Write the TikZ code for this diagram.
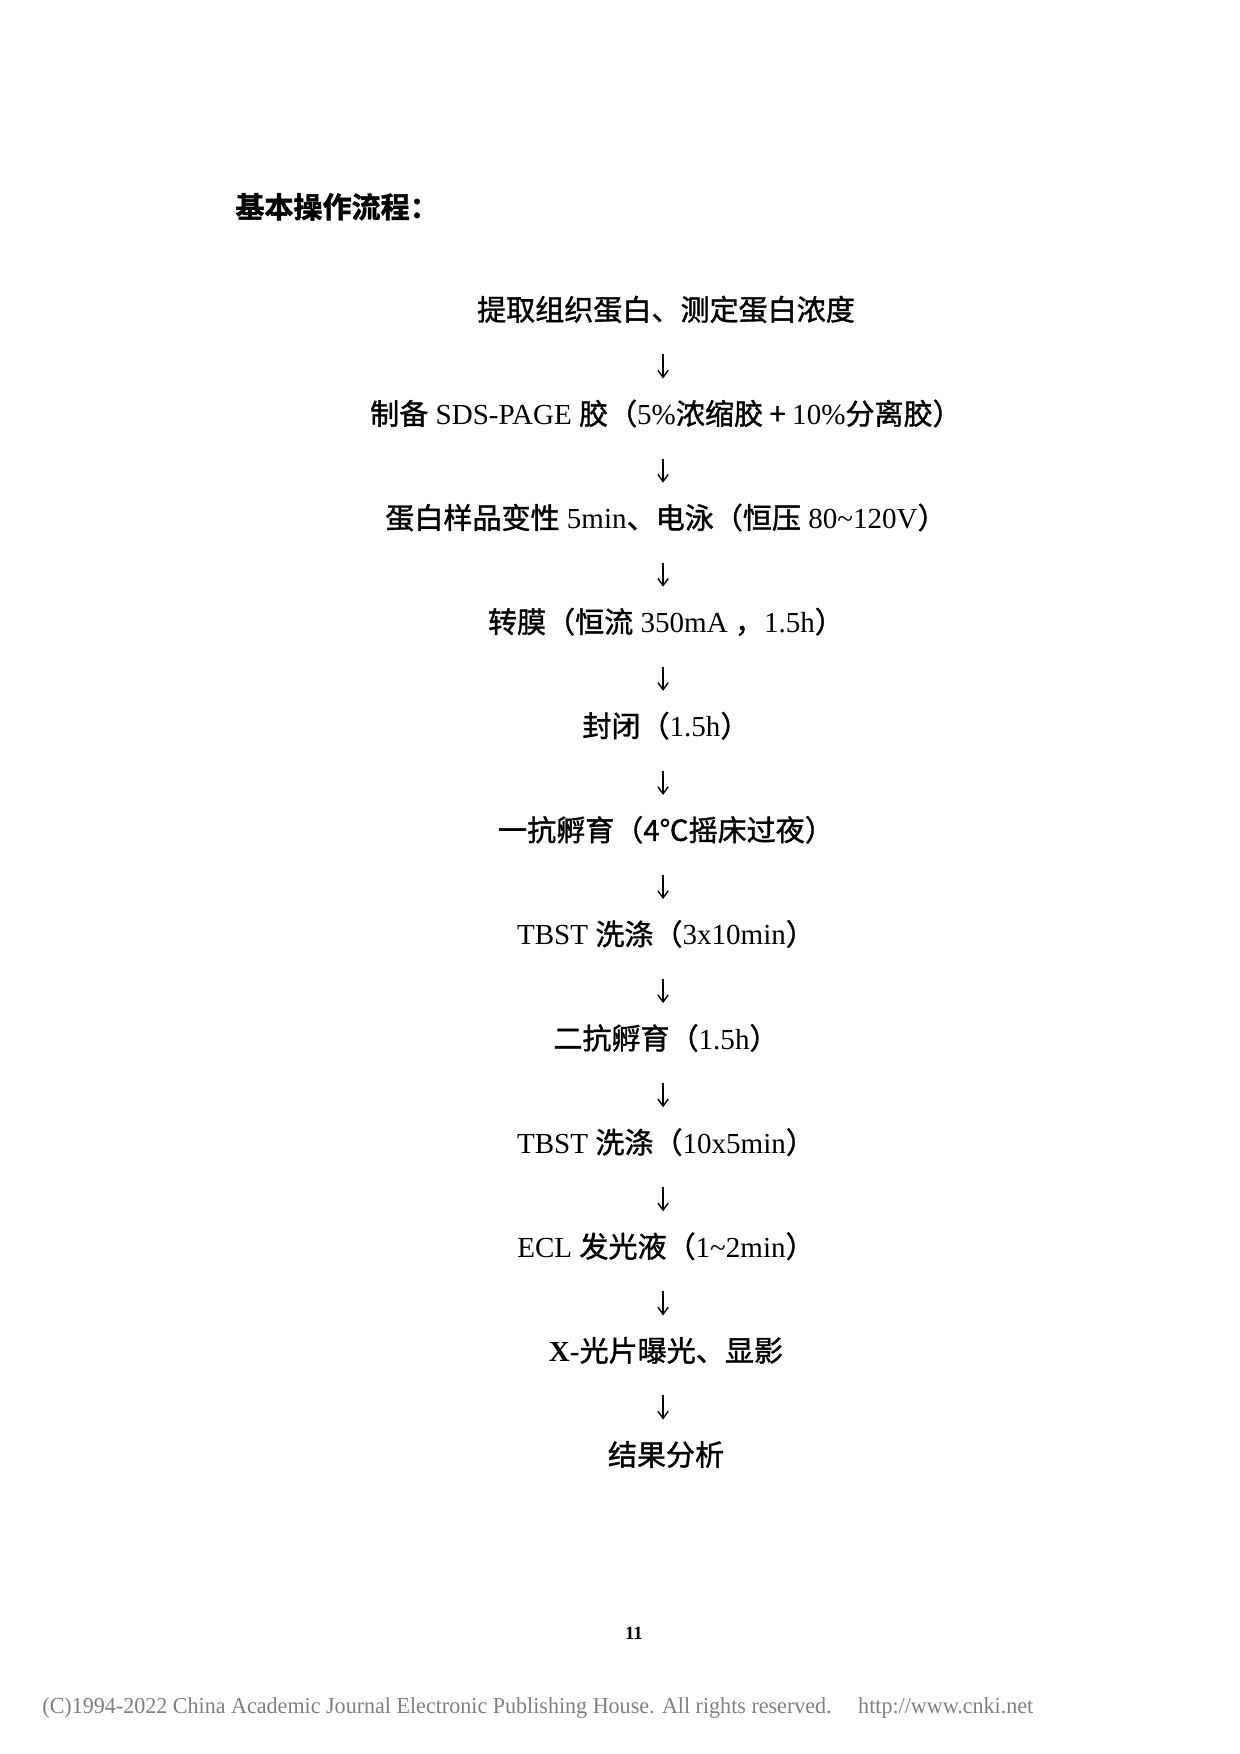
\documentclass[tikz,border=0pt]{standalone}
\usepackage{fontspec}
\setmainfont{Liberation Serif}
\newfontfamily\cjk[FakeBold=1.3]{Noto Sans CJK SC}
\newfontfamily\cjktitle[FakeBold=1.5]{Noto Sans CJK SC Bold}
\usetikzlibrary{arrows.meta}
\definecolor{footgray}{RGB}{128,128,128}
\begin{document}
\begin{tikzpicture}[x=0.169355mm,y=-0.169355mm,
  stepnode/.style={anchor=center, inner sep=0pt, text height=0.88em, text depth=0.12em,
    font=\fontsize{14pt}{16pt}\selectfont},
  titlenode/.style={anchor=west, inner sep=0pt, text height=0.88em, text depth=0.12em,
    font=\fontsize{14pt}{16pt}\selectfont\cjktitle},
  flowarrow/.style={line width=0.65pt, -{Straight Barb[length=1.2mm,width=1.75mm,line width=0.65pt]},
    shorten <=7.1mm, shorten >=6.45mm}]
\useasboundingbox (0,0) rectangle (1240,1754);

\node[titlenode] (title) at (235,210) {基本操作流程：};

\node[stepnode] (s1)  at (666,312.5) {{\cjk 提取组织蛋白、测定蛋白浓度}};
\node[stepnode] (s2)  at (666,416.6) {{\cjk 制备} SDS-PAGE {\cjk 胶（}5\%{\cjk 浓缩胶 + }10\%{\cjk 分离胶）}};
\node[stepnode] (s3)  at (666,520.7) {{\cjk 蛋白样品变性} 5min{\cjk 、电泳（恒压} 80\textasciitilde120V{\cjk ）}};
\node[stepnode] (s4)  at (666,624.8) {{\cjk 转膜（恒流} 350mA {\cjk ，}1.5h{\cjk ）}};
\node[stepnode] (s5)  at (666,728.9) {{\cjk 封闭（}1.5h{\cjk ）}};
\node[stepnode] (s6)  at (666,833.0) {{\cjk 一抗孵育（4℃摇床过夜）}};
\node[stepnode] (s7)  at (666,937.1) {TBST {\cjk 洗涤（}3x10min{\cjk ）}};
\node[stepnode] (s8)  at (666,1041.2) {{\cjk 二抗孵育（}1.5h{\cjk ）}};
\node[stepnode] (s9)  at (666,1145.3) {TBST {\cjk 洗涤（}10x5min{\cjk ）}};
\node[stepnode] (s10) at (666,1249.4) {ECL {\cjk 发光液（}1\textasciitilde2min{\cjk ）}};
\node[stepnode] (s11) at (666,1353.5) {{\bfseries X-}{\cjk 光片曝光、显影}};
\node[stepnode] (s12) at (666,1457.6) {{\cjk 结果分析}};

\foreach \a/\b in {s1/s2,s2/s3,s3/s4,s4/s5,s5/s6,s6/s7,s7/s8,s8/s9,s9/s10,s10/s11,s11/s12}
  \draw[flowarrow] ([xshift=-0.5mm]\a.center) -- ([xshift=-0.5mm]\b.center);

\node[anchor=base, inner sep=0pt, font=\fontsize{9pt}{11pt}\selectfont\bfseries] (pagenum) at (634,1639) {11};
\node[anchor=base west, inner sep=0pt, text=footgray, font=\fontsize{11pt}{13pt}\selectfont] (footer) at (42,1713)
  {\resizebox{167.8mm}{\height}{(C)1994-2022 China Academic Journal Electronic Publishing House. All rights reserved.\hspace{1.2em}http://www.cnki.net}};
\end{tikzpicture}
\end{document}
